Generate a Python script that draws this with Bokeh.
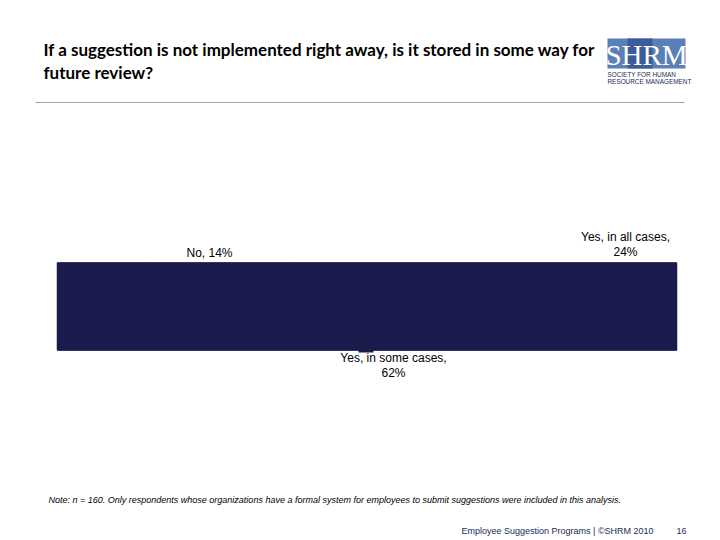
from bokeh.plotting import figure
from bokeh.models import Range1d, ColumnDataSource
from bokeh.core.properties import value
from bokeh.embed import file_html
from bokeh.resources import INLINE

# ---- data ----
categories = ["No", "Yes, in all cases", "Yes, in some cases"]
percents = [14, 24, 62]
labels = ["No, 14%", "Yes, in all cases,\n24%", "Yes, in some cases,\n62%"]
title_lines = ["If a suggestion is not implemented right away, is it stored in some way for",
               "future review?"]
note = "Note: n = 160. Only respondents whose organizations have a formal system for employees to submit suggestions were included in this analysis."
footer = "Employee Suggestion Programs | \u00a9SHRM 2010"
page_no = "16"

NAVY = "#1b1b4d"

p = figure(width=720, height=540, output_backend="svg", toolbar_location=None,
           x_range=Range1d(0, 720), y_range=Range1d(540, 0),
           min_border=0, outline_line_color=None)
p.axis.visible = False
p.grid.visible = False
p.background_fill_color = "white"
p.border_fill_color = "white"

# percent scale for the bar (0..100 maps to the bar span)
px_per = (676 - 57) / 100.0
p.extra_x_ranges = {"pct": Range1d(-57 / px_per, (720 - 57) / px_per)}

src = ColumnDataSource(data=dict(y=[306], **{c: [v] for c, v in zip(categories, percents)}))
# backing bar for the full total (hides anti-aliasing seams between same-colour segments)
p.hbar(y=[306], left=[0], right=[sum(percents)], height=88, color=NAVY, line_color=None,
       x_range_name="pct")
p.hbar_stack(categories, y="y", height=87, color=[NAVY] * 3, line_color=NAVY, line_width=1.5,
             source=src, x_range_name="pct")
# small leader stub under the bar
p.quad(left=[358], right=[373], top=[349], bottom=[352], color=NAVY, line_color=None)

# segment labels
lab_x = [209, 625, 393]
lab_y = [252, 244, 365]
p.text(x=lab_x, y=lab_y, text=labels, text_align="center", text_baseline="middle",
       text_font=value("Liberation Sans"), text_font_size="12px", text_color="black",
       text_line_height=1.1)

# title
p.text(x=[43, 43], y=[49, 72], text=title_lines, text_align="left", text_baseline="middle",
       text_font=value("Lato"), text_font_style="bold", text_font_size="17px", text_color="black")

# rule
p.segment(x0=[35], y0=[102], x1=[684], y1=[102], line_color="#a6a6a6", line_width=1.2)

# logo
p.quad(left=[607], right=[685], top=[38], bottom=[68], color="#5b7fb7", line_color=None)
p.quad(left=[627], right=[652], top=[38], bottom=[68], color="#3b5c97", line_color=None)
p.text(x=[646], y=[54], text=["SHRM"], text_align="center", text_baseline="middle",
       text_font=value("Liberation Serif"), text_font_size="29px", text_color="white")
p.text(x=[607, 607], y=[74, 81], text=["SOCIETY FOR HUMAN", "RESOURCE MANAGEMENT"],
       text_align="left", text_baseline="middle", text_font=value("Liberation Sans"),
       text_font_size="6.4px", text_color="#1b2a5a")

# note and footer
p.text(x=[48], y=[499], text=[note], text_align="left", text_baseline="middle",
       text_font=value("Liberation Sans"), text_font_style="italic", text_font_size="9px",
       text_color="black")
p.text(x=[461], y=[530], text=[footer], text_align="left", text_baseline="middle",
       text_font=value("Liberation Sans"), text_font_size="9px", text_color="#1b2a5a")
p.text(x=[686], y=[530], text=[page_no], text_align="right", text_baseline="middle",
       text_font=value("Liberation Sans"), text_font_size="9px", text_color="#1b2a5a")

open("out.html", "w").write(file_html(p, INLINE))
